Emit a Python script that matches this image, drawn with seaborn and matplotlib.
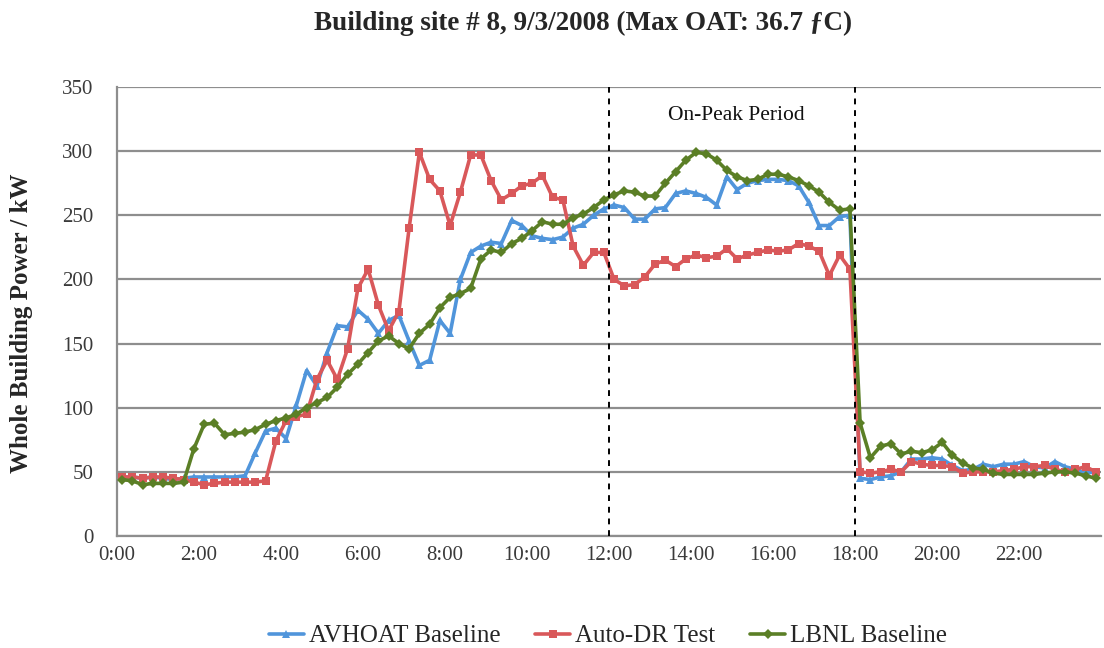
import numpy as np
import pandas as pd
import matplotlib
matplotlib.use("Agg")
import matplotlib.pyplot as plt
import seaborn as sns

# ---- data (15-minute intervals, 96 points) ----
series_names = ["AVHOAT Baseline", "Auto-DR Test", "LBNL Baseline"]

avhoat = [46, 46, 45, 46, 45, 44, 45, 46, 46, 46, 46, 46, 47,
          65, 82, 84, 76, 102, 129, 117, 143, 164, 163, 176, 169, 158, 168, 172, 152,
          133, 137, 168, 158, 200, 221, 226, 229, 228, 246, 242, 234, 232, 231, 233,
          240, 243, 250, 255, 258, 256, 247, 247, 255, 256, 267, 269, 267, 264, 258,
          280, 270, 275, 277, 278, 278, 277, 273, 260, 242, 242, 249, 250,
          45, 44, 46, 47, 50, 60, 60, 61, 60, 55, 51, 52, 56, 54, 56, 56, 58, 54,
          53, 58, 54, 52, 49, 50]

autodr = [46, 46, 45, 46, 46, 45, 44, 42, 40, 41, 42, 42, 42, 42, 43,
          74, 90, 93, 95, 122, 137, 122, 146, 193, 208, 180, 160, 175, 240, 299, 278,
          269, 242, 268, 297, 297, 277, 262, 267, 273, 275, 281, 264, 262, 226, 211,
          221, 221, 200, 195, 196, 202, 212, 215, 210, 216, 219, 217, 218, 224, 216,
          219, 221, 223, 222, 223, 228, 226, 222, 203, 219, 208,
          50, 49, 50, 52, 50, 58, 56, 55, 55, 54, 49, 50, 50, 50, 51, 52, 54, 54,
          55, 52, 50, 52, 54, 50]

lbnl = [44, 43, 40, 41, 41, 41, 42, 68, 87, 88, 79, 80, 81, 83, 87, 90, 92,
        95, 100, 104, 108, 116, 126, 134, 143, 152, 156, 150, 146, 158, 165, 178,
        186, 189, 193, 216, 223, 221, 228, 232, 238, 245, 243, 243, 248, 251, 256,
        262, 266, 269, 268, 265, 265, 275, 284, 293, 299, 298, 293, 285, 280, 277,
        278, 282, 282, 280, 277, 273, 268, 260, 254, 255,
        88, 61, 70, 72, 64, 66, 65, 67, 73, 63, 57, 53, 52, 49, 48, 48, 48, 48,
        49, 50, 50, 49, 47, 45]

tick_hours = list(range(0, 24, 2))
tick_labels = [f"{h}:00" for h in tick_hours]
peak_start, peak_end = 12, 18

hours = (np.arange(96) + 0.5) / 4.0  # points centred in 15-min categories

df = pd.DataFrame({
    "hour": np.concatenate([hours] * 3),
    "power": np.concatenate([avhoat, autodr, lbnl]),
    "series": np.repeat(series_names, 96),
})

# ---- style ----
sns.set_theme(style="white")
plt.rcParams["font.family"] = ["Liberation Serif", "DejaVu Serif"]

palette = {"AVHOAT Baseline": "#5095DB",
           "Auto-DR Test": "#D9585A",
           "LBNL Baseline": "#5B7F26"}
markers = {"AVHOAT Baseline": "^", "Auto-DR Test": "s", "LBNL Baseline": "D"}

fig = plt.figure(figsize=(11.04, 6.48), dpi=100)
ax = fig.add_axes([117 / 1104, 1 - 536 / 648, 984 / 1104, 449 / 648])

sns.lineplot(data=df, x="hour", y="power", hue="series", style="series",
             palette=palette, markers=markers, dashes=False, linewidth=2.6,
             markersize=5.5, markeredgewidth=0, ax=ax, legend=True, zorder=3)

ax.set_xlim(0, 24)
ax.set_ylim(0, 350)
ax.set_yticks(range(0, 351, 50))
ax.set_xticks(tick_hours)
ax.set_xticklabels(tick_labels)

ax.yaxis.grid(True, color="#8e8e8e", linewidth=1.6)
ax.xaxis.grid(False)
ax.set_axisbelow(True)
for s in ["top", "right"]:
    ax.spines[s].set_visible(False)
for s in ["left", "bottom"]:
    ax.spines[s].set_color("#8e8e8e")
    ax.spines[s].set_linewidth(1.6)

ax.tick_params(axis="both", which="major", direction="out", length=5,
               width=1.2, color="#8e8e8e", labelsize=15, labelcolor="#3a3a3a")
ax.tick_params(axis="x", pad=2)
ax.tick_params(axis="y", pad=12)

ax.set_xlabel("")
ax.set_ylabel("")
fig.text(22 / 1104, 1 - 323 / 648, "Whole Building Power / kW", rotation=90,
         ha="center", va="center", fontsize=18, fontweight="bold")

for h in (peak_start, peak_end):
    ax.axvline(h, color="black", linestyle=(0, (3, 3)), linewidth=1.4, zorder=4)

ax.text(15.1, 328, "On-Peak Period", ha="center", va="center", fontsize=15.5,
        color="#111111")

fig.text(583 / 1104, 1 - 23 / 648,
         "Building site # 8, 9/3/2008 (Max OAT: 36.7 \u0192C)",
         ha="center", va="center", fontsize=19.5, fontweight="bold")

handles, labels = ax.get_legend_handles_labels()
ax.get_legend().remove()
fig.legend(handles, labels, loc="center", bbox_to_anchor=(608 / 1104, 1 - 636 / 648),
           ncol=3, frameon=False, fontsize=18, handlelength=1.4,
           columnspacing=1.4, handletextpad=0.2)

fig.savefig("out.png", dpi=100)
